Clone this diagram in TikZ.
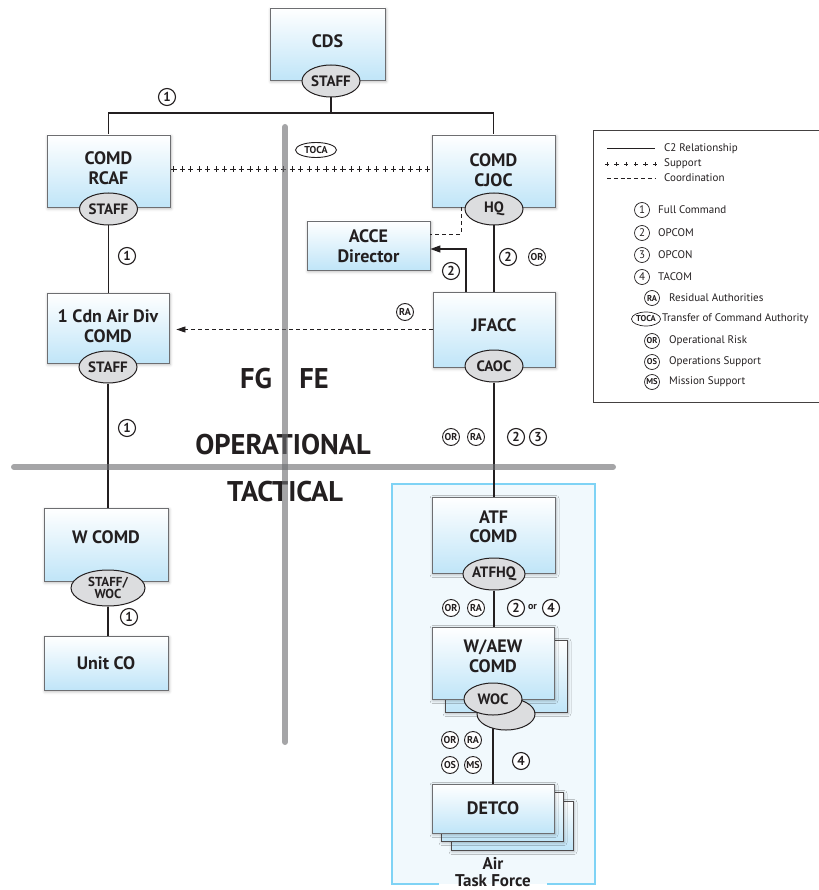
\documentclass[tikz,border=0pt]{standalone}
\usepackage{fontspec}
\setmainfont{PT Sans}
\usetikzlibrary{shapes.geometric,shadows,shadows.blur,arrows.meta,calc,decorations.markings}

\definecolor{boxblue}{HTML}{C0E5F8}
\definecolor{boxedge}{HTML}{6D6E71}
\definecolor{bargray}{HTML}{6D6E71}
\definecolor{ellgray}{HTML}{DCDDDF}
\definecolor{framecol}{HTML}{7FD3F5}
\definecolor{framefill}{HTML}{F1F9FD}
\definecolor{linec}{HTML}{231F20}

\pgfdeclarelayer{bg}
\pgfsetlayers{bg,main}

\tikzset{
  unitbox/.style={rectangle, draw=boxedge, line width=0.8pt, top color=white, bottom color=boxblue,
    blur shadow={shadow xshift=1pt, shadow yshift=-1.5pt, shadow blur radius=3pt, shadow opacity=30}, inner sep=0pt},
  boxtext/.style={font=\bfseries\fontsize{18}{19.5}\selectfont, align=center, inner sep=0pt, text=linec},
  hqell/.style={ellipse, draw=linec, line width=1pt, fill=ellgray, minimum width=58pt, minimum height=32pt,
    inner sep=0pt, font=\bfseries\fontsize{15}{15}\selectfont, align=center, text=linec},
  num/.style={circle, draw=linec, line width=1.1pt, fill=white, minimum size=17pt, inner sep=0pt,
    font=\bfseries\fontsize{13}{13}\selectfont, text=linec},
  tagc/.style={circle, draw=linec, line width=0.9pt, fill=white, minimum size=17pt, inner sep=0pt,
    font=\bfseries\fontsize{10}{10}\selectfont, text=linec},
  tocatag/.style={ellipse, draw=linec, line width=0.9pt, fill=white, minimum width=41pt, minimum height=15pt,
    inner sep=0pt, font=\bfseries\fontsize{10}{10}\selectfont, text=linec},
  legnum/.style={circle, draw=linec, line width=0.7pt, fill=white, minimum size=15pt, inner sep=0pt,
    font=\fontsize{11}{11}\selectfont, text=linec},
  legtag/.style={circle, draw=linec, line width=0.7pt, fill=white, minimum size=15pt, inner sep=0pt,
    font=\bfseries\fontsize{8.5}{8.5}\selectfont, text=linec},
  legtoca/.style={ellipse, draw=linec, line width=0.7pt, fill=white, minimum width=29pt, minimum height=14pt,
    inner sep=0pt, font=\bfseries\fontsize{8.5}{8.5}\selectfont, text=linec},
  legtext/.style={font=\fontsize{11}{12}\selectfont, anchor=west, inner sep=0pt, text=linec},
  c2/.style={draw=linec, line width=1.4pt},
  coordline/.style={draw=linec, line width=0.8pt, dash pattern=on 4pt off 3pt},
  supportline/.style={decoration={markings, mark=between positions 0 and 1 step 8.45pt with
    {\draw[line width=0.9pt, linec] (-2.6pt,0pt)--(2.6pt,0pt) (0pt,-2.6pt)--(0pt,2.6pt);}}, decorate},
  supportleg/.style={decoration={markings, mark=between positions 0 and 1 step 9.6pt with
    {\draw[line width=0.7pt, linec] (-2.2pt,0pt)--(2.2pt,0pt) (0pt,-2.2pt)--(0pt,2.2pt);}}, decorate},
  bar/.style={draw=bargray, line width=6pt, line cap=round, opacity=0.62},
  bigtext/.style={font=\bfseries\fontsize{28.5}{28.5}\selectfont, inner sep=0pt, text=linec},
  arrowtip/.style={-{Triangle[length=10pt,width=7pt]}},
  atfframe/.style={draw=framecol, line width=2.2pt},
}

\begin{document}
\begin{tikzpicture}[x=1pt,y=-1pt]
\useasboundingbox (0,0) rectangle (818,890);

% Air Task Force frame
\coordinate (fr1) at (392,484);
\coordinate (fr2) at (595,884);
\path[fill=framefill] (fr1) rectangle (fr2);
\path[atfframe] (439,884) -- (392,884) -- (392,484) -- (595,484) -- (595,884) -- (547,884);
\node[font=\bfseries\fontsize{17}{16.5}\selectfont, align=center, inner sep=0pt, text=linec] (atflabel) at (493,872) {Air\\Task Force};

% boxes
\node[unitbox, minimum width=115pt, minimum height=72pt] (cds) at (327.5,44) {};
\node[boxtext] (cdst) at (327.5,41) {CDS};
\node[hqell] (cdss) at (331,81) {STAFF};

\node[unitbox, minimum width=123pt, minimum height=72pt] (rcaf) at (108.5,171) {};
\node[boxtext] (rcaft) at (108.5,168) {COMD\\RCAF};
\node[hqell] (rcafs) at (108.5,209) {STAFF};

\node[unitbox, minimum width=123pt, minimum height=72pt] (cjoc) at (493.5,171) {};
\node[boxtext] (cjoct) at (493.5,170) {COMD\\CJOC};
\node[hqell] (hq) at (494,209) {HQ};

\node[unitbox, minimum width=123pt, minimum height=49pt] (acce) at (368.5,245.5) {};
\node[boxtext] (accet) at (368.5,246) {ACCE\\Director};

\node[unitbox, minimum width=122pt, minimum height=70pt] (cdiv) at (108,328) {};
\node[boxtext] (cdivt) at (108,326) {1 Cdn Air Div\\COMD};
\node[hqell] (cdivs) at (108,367) {STAFF};

\node[unitbox, minimum width=122pt, minimum height=75pt] (jfacc) at (494,329.5) {};
\node[boxtext] (jfacct) at (494,325) {JFACC};
\node[hqell] (caoc) at (494,366) {CAOC};

\node[unitbox, minimum width=124pt, minimum height=73pt] (wcomd) at (106,544.5) {};
\node[boxtext] (wcomdt) at (106,537) {W COMD};
\node[hqell, minimum width=74pt, minimum height=36pt, font=\bfseries\fontsize{13}{12.5}\selectfont] (wcomds) at (108,588) {STAFF/\\WOC};

\node[unitbox, minimum width=124pt, minimum height=54pt] (unitco) at (106,663) {};
\node[boxtext] (unitcot) at (106,663) {Unit CO};

\node[unitbox, minimum width=123pt, minimum height=76pt] (atf) at (493.5,535) {};
\node[boxtext] (atft) at (493.5,527) {ATF\\COMD};
\node[hqell] (atfhq) at (494,574) {ATFHQ};

\node[unitbox, draw=linec!80, minimum width=122pt, minimum height=49pt] (detco3) at (512,825.5) {};
\node[unitbox, draw=linec!80, minimum width=122pt, minimum height=49pt] (detco2) at (502,816.5) {};
\node[unitbox, minimum width=122pt, minimum height=49pt] (detco) at (493,808.5) {};
\node[boxtext] (detcot) at (493,808) {DETCO};

\node[unitbox, draw=linec!80, minimum width=122pt, minimum height=72pt] (waewb) at (506,676) {};
\node[unitbox, minimum width=122pt, minimum height=72pt] (waew) at (493,663) {};
\node[boxtext] (waewt) at (493,656) {W/AEW\\COMD};
\coordinate (wocc) at (493,699);
\draw[c2] (wocc) -- (wocc |- detco.north);
\node[hqell] (woc2) at (506,714) {};
\node[hqell] (woc) at (wocc) {WOC};

% connectors
\coordinate (bus) at (0,113);
\begin{pgfonlayer}{bg}
\draw[c2] (cdss.south) -- (cdss.south |- bus);
\draw[c2] (rcaf.north) |- (cjoc.north |- bus) -- (cjoc.north);
\draw[c2] (rcafs.south) -- (rcafs.south |- cdiv.north);
\draw[c2] (cdivs.south) -- (cdivs.south |- wcomd.north);
\draw[c2] (wcomds.south) -- (wcomds.south |- unitco.north);
\draw[c2] (hq.south) -- (hq.south |- jfacc.north);
\end{pgfonlayer}
\draw[c2] (caoc.south) -- (caoc.south |- atf.north);
\draw[c2] (atfhq.south) -- (atfhq.south |- waew.north);
\draw[c2, line width=1.2pt, arrowtip] ($(jfacc.north)+(-28,0)$) |- ($(acce.east)+(0,3.5)$);
\draw[coordline] ($(cjoc.south)+(-32.5,0)$) |- ($(acce.east)+(0,-11.5)$);
\draw[coordline, -{Triangle[length=9pt,width=6pt]}, shorten >=7pt] (jfacc.west) -- (jfacc.west -| cdiv.east);
\path[supportline] ($(rcaf.east)+(3.5,-2)$) -- ($(cjoc.west)+(-3,-2)$);

% labels on connectors
\node[num] (n1a) at (167,97) {1};
\node[num] (n1b) at (127,256) {1};
\node[num] (n1c) at (127,428) {1};
\node[num] (n1d) at (129,617) {1};
\node[tocatag] (toca) at (316,150) {TOCA};
\node[num] (n2a) at (451,271) {2};
\node[num] (n2b) at (508,257) {2};
\node[tagc] (or1) at (537,257) {OR};
\node[tagc] (ra1) at (405,312) {RA};
\node[tagc] (or2) at (451,437) {OR};
\node[tagc] (ra2) at (476,437) {RA};
\node[num] (n2c) at (516,437) {2};
\node[num] (n3a) at (538,437) {3};
\node[tagc] (or3) at (451,608) {OR};
\node[tagc] (ra3) at (476,608) {RA};
\node[num] (n2d) at (516,608) {2};
\node[font=\bfseries\fontsize{10}{10}\selectfont, inner sep=0pt, text=linec] (ortxt) at (532.5,606.5) {or};
\node[num] (n4a) at (551,608) {4};
\node[tagc] (or4) at (450,740) {OR};
\node[tagc] (ra4) at (473,740) {RA};
\node[tagc] (os4) at (450,765) {OS};
\node[tagc] (ms4) at (473,765) {MS};
\node[num] (n4b) at (521,761) {4};

% FG / FE / levels
\node[bigtext] (fg) at (256,379) {FG};
\node[bigtext] (fe) at (314,379) {FE};
\node[bigtext] (oper) at (283,445) {OPERATIONAL};
\node[bigtext] (tact) at (285,492) {TACTICAL};

% legend
\draw[line width=1pt, draw=linec!85] (593,131) rectangle (824,402);
\coordinate (la1) at (607,149); \coordinate (lb1) at (655,149);
\draw[line width=1pt, linec] (la1) -- (lb1);
\node[legtext] (lt1) at (664,149) {C2 Relationship};
\coordinate (la2) at (607,164); \coordinate (lb2) at (655.2,164);
\path[supportleg] (la2) -- (lb2);
\node[legtext] (lt2) at (664,164) {Support};
\coordinate (la3) at (607,178); \coordinate (lb3) at (655,178);
\draw[line width=0.8pt, linec, dash pattern=on 4pt off 2.8pt] (la3) -- (lb3);
\node[legtext] (lt3) at (664,178) {Coordination};
\node[legnum] (lg1) at (642,210) {1};
\node[legtext] (lt4) at (658,210) {Full Command};
\node[legnum] (lg2) at (642,233) {2};
\node[legtext] (lt5) at (658,233) {OPCOM};
\node[legnum] (lg3) at (642,255) {3};
\node[legtext] (lt6) at (658,255) {OPCON};
\node[legnum] (lg4) at (642,277) {4};
\node[legtext] (lt7) at (658,277) {TACOM};
\node[legtag] (lg5) at (652,298) {RA};
\node[legtext] (lt8) at (669,298) {Residual Authorities};
\node[legtoca] (lg6) at (646,319) {TOCA};
\node[legtext] (lt9) at (662,319) {Transfer of Command Authority};
\node[legtag] (lg7) at (652,341) {OR};
\node[legtext] (lt10) at (669,341) {Operational Risk};
\node[legtag] (lg8) at (652,362) {OS};
\node[legtext] (lt11) at (669,362) {Operations Support};
\node[legtag] (lg9) at (652,382) {MS};
\node[legtext] (lt12) at (669,382) {Mission Support};

% grey divider bars (semi-transparent, on top)
\coordinate (vbt) at (285,127); \coordinate (vbb) at (285,742);
\coordinate (hbl) at (14,467); \coordinate (hbr) at (613,467);
\draw[bar] (vbt) -- (vbb);
\draw[bar] (hbl) -- (hbr);
\end{tikzpicture}
\end{document}
